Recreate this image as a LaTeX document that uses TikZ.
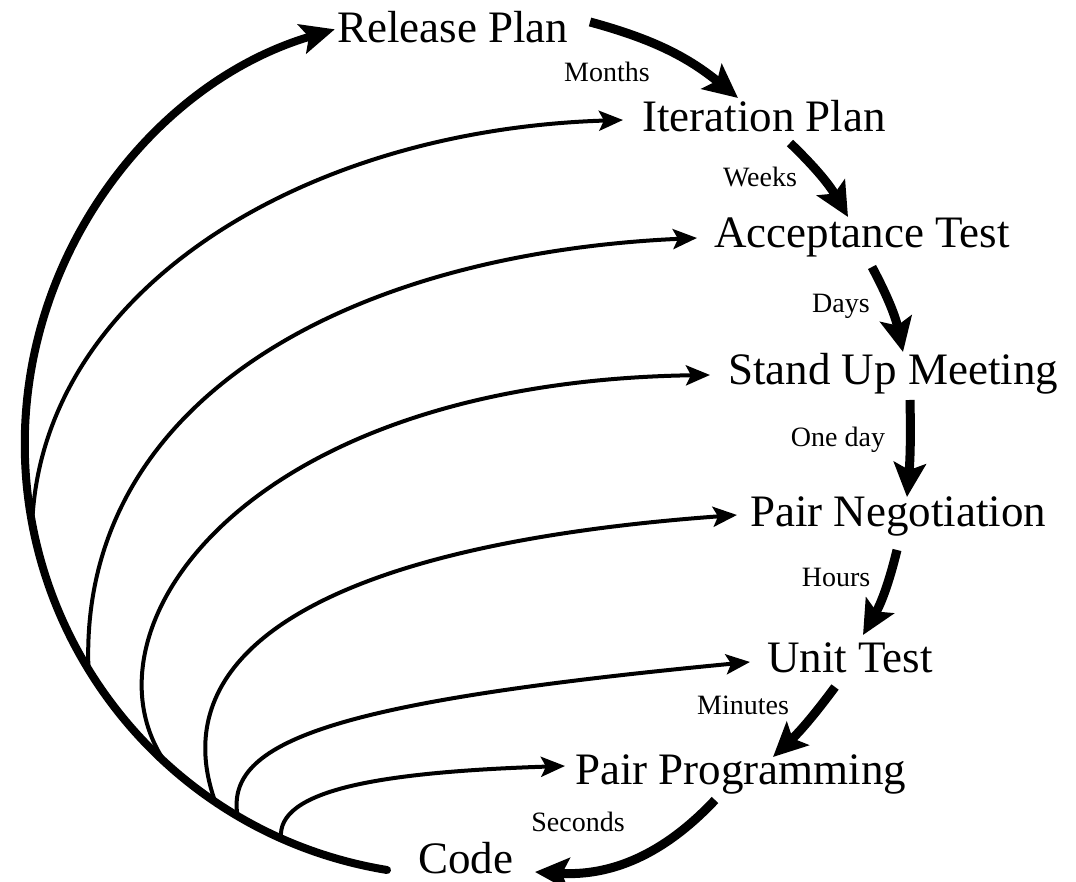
\documentclass[tikz,border=0pt]{standalone}
\usepackage{fontspec}
\setmainfont{Liberation Serif}
\usetikzlibrary{arrows.meta}
\tikzset{
  stagebox/.style={inner sep=0pt, anchor=base west, font=\fontsize{45}{50}\selectfont},
  timelab/.style={inner sep=0pt, anchor=base, font=\fontsize{28}{32}\selectfont},
  fastloop/.style={line width=9pt, -{Stealth[length=34pt,width=32pt,inset=7pt]}},
  bigloop/.style={line width=8pt, line cap=round, -{Stealth[length=34pt,width=30pt,inset=7pt]}},
  backloop/.style={line width=4pt, -{Stealth[length=24pt,width=20pt,inset=5pt]}}
}
\begin{document}
\begin{tikzpicture}[x=1pt,y=1pt]
\useasboundingbox[fill=white] (0,0) rectangle (1076,882);

% stages
\node[stagebox] (rel)   at (337,839) {Release Plan};
\node[stagebox] (iter)  at (642,750) {Iteration Plan};
\node[stagebox] (acc)   at (714,634) {Acceptance Test};
\node[stagebox] (stand) at (728,497) {Stand Up Meeting};
\node[stagebox] (pneg)  at (750,355) {Pair Negotiation};
\node[stagebox] (unit)  at (767,209) {Unit Test};
\node[stagebox] (pprog) at (575,97)  {Pair Programming};
\node[stagebox] (code)  at (418,8)   {Code};

% time labels
\node[timelab] (lmonths)  at (607,800) {Months};
\node[timelab] (lweeks)   at (760,695) {Weeks};
\node[timelab] (ldays)    at (841,569) {Days};
\node[timelab] (loneday)  at (838,435) {One day};
\node[timelab] (lhours)   at (836,295) {Hours};
\node[timelab] (lminutes) at (743,167) {Minutes};
\node[timelab] (lseconds) at (578,50)  {Seconds};

% right side: thick arrows down the chain
\draw[fastloop] ([shift={(253,21)}]rel.base west) to[bend left=12] ([shift={(96,34)}]iter.base west);
\draw[fastloop] ([shift={(148,-11)}]iter.base west) to[bend left=8] ([shift={(134,31)}]acc.base west);
\draw[fastloop] ([shift={(158,-19)}]acc.base west) to[bend left=8] ([shift={(175,33)}]stand.base west);
\draw[fastloop] ([shift={(182,-15)}]stand.base west) to[bend left=3] ([shift={(157,30)}]pneg.base west);
\draw[fastloop] ([shift={(147,-23)}]pneg.base west) to[bend left=8] ([shift={(96,38)}]unit.base west);
\draw[fastloop] ([shift={(68,-14)}]unit.base west) to[bend left=5] ([shift={(198,28)}]pprog.base west);
\draw[fastloop] ([shift={(140,-15)}]pprog.base west) to[bend left=25] ([shift={(117,2)}]code.base west);

% left side: feedback loops from code
\draw[backloop] ([shift={(-31,4)}]code.base west) arc[start angle=260.7, end angle=190.6, radius=432]
  .. controls (42,590) and (300,752) .. ([shift={(-19,12)}]iter.base west);
\draw[backloop] ([shift={(-31,4)}]code.base west) arc[start angle=260.7, end angle=211.5, radius=432]
  .. controls (78,480) and (345,628) .. ([shift={(-17,10)}]acc.base west);
\draw[backloop] ([shift={(-31,4)}]code.base west) arc[start angle=260.7, end angle=227.6, radius=432]
  .. controls (75,250) and (240,500) .. ([shift={(-18,10)}]stand.base west);
\draw[backloop] ([shift={(-31,4)}]code.base west) arc[start angle=260.7, end angle=236, radius=432]
  .. controls (165,220) and (300,335) .. ([shift={(-13,12)}]pneg.base west);
\draw[backloop] ([shift={(-31,4)}]code.base west) arc[start angle=260.7, end angle=239.5, radius=432]
  .. controls (225,140) and (330,180) .. ([shift={(-17,11)}]unit.base west);
\draw[backloop] ([shift={(-31,4)}]code.base west) arc[start angle=260.7, end angle=246, radius=432]
  .. controls (276,92) and (380,110) .. ([shift={(-10,19)}]pprog.base west);
\draw[bigloop] ([shift={(-31,4)}]code.base west) arc[start angle=260.7, end angle=106.4, radius=432];
\end{tikzpicture}
\end{document}
